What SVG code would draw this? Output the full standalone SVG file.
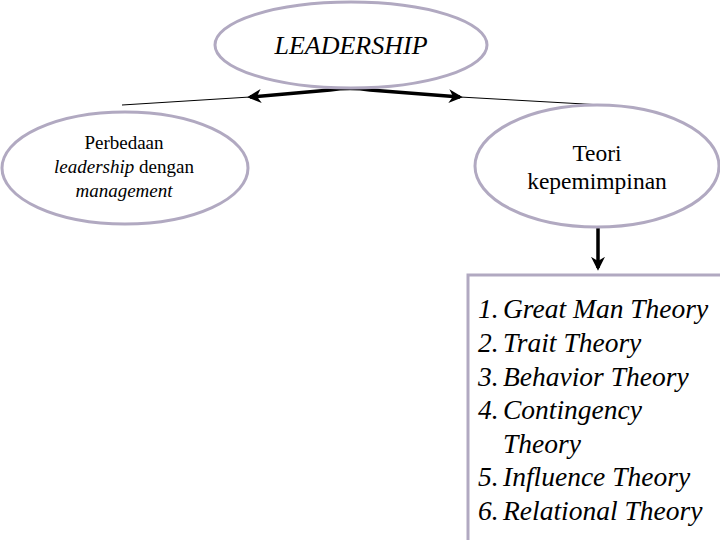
<svg xmlns="http://www.w3.org/2000/svg" width="720" height="540" viewBox="0 0 720 540">
<style>
.node{fill:#ffffff;stroke:#b1a9c1;stroke-width:3}
.it{font-style:italic}
.thin{fill:none;stroke:#000;stroke-width:1}
.thick{fill:none;stroke:#000;stroke-width:3.5}
</style>
<defs>
<marker id="ah" viewBox="0 0 10 10" refX="8" refY="5" markerWidth="4" markerHeight="4" orient="auto-start-reverse" markerUnits="strokeWidth">
<path d="M0,0 L10,5 L0,10 L3,5 Z" fill="#000"/>
</marker>
</defs>
<rect width="720" height="540" fill="#fff"/>
<g id="connectors">
<path class="thin" d="M122,105 L250,97"/>
<path class="thin" d="M460,97 L602,105"/>
<path class="thick" d="M250,97 L330,90 Q350,87 370,90 L460,97" marker-start="url(#ah)" marker-end="url(#ah)"/>
<path class="thick" d="M598,228 L598,268" marker-end="url(#ah)"/>
</g>
<g font-family="'Liberation Serif', 'Times New Roman', serif" fill="#000">
<g id="leadership">
<ellipse class="node" cx="351" cy="45" rx="136" ry="43"/>
<text class="it" x="351" y="54" font-size="26" text-anchor="middle">LEADERSHIP</text>
</g>
<g id="perbedaan">
<ellipse class="node" cx="125" cy="168" rx="123" ry="56"/>
<text x="124" y="149" font-size="19" text-anchor="middle">Perbedaan</text>
<text x="124" y="173" font-size="19" text-anchor="middle"><tspan class="it">leadership</tspan> dengan</text>
<text class="it" x="124" y="197" font-size="19" text-anchor="middle">management</text>
</g>
<g id="teori">
<ellipse class="node" cx="597" cy="166" rx="122" ry="61"/>
<text x="597" y="161" font-size="23.5" text-anchor="middle">Teori</text>
<text x="597" y="189" font-size="23.5" text-anchor="middle">kepemimpinan</text>
</g>
<g id="list" font-size="27.5">
<rect class="node" x="468" y="275" width="260" height="275"/>
<text class="it" x="478" y="318">1.</text><text class="it" x="503" y="318">Great Man Theory</text>
<text class="it" x="478" y="352">2.</text><text class="it" x="503" y="352">Trait Theory</text>
<text class="it" x="478" y="386">3.</text><text class="it" x="503" y="386">Behavior Theory</text>
<text class="it" x="478" y="419">4.</text><text class="it" x="503" y="419">Contingency</text>
<text class="it" x="503" y="453">Theory</text>
<text class="it" x="478" y="486">5.</text><text class="it" x="503" y="486">Influence Theory</text>
<text class="it" x="478" y="520">6.</text><text class="it" x="503" y="520">Relational Theory</text>
</g>
</g>
</svg>
